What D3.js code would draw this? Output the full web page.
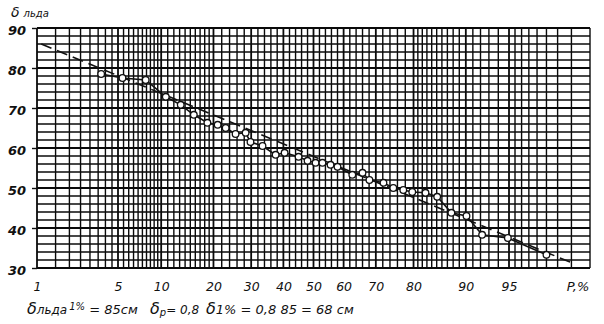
<!DOCTYPE html>
<html>
<head>
<meta charset="utf-8">
<script src="https://cdn.jsdelivr.net/npm/d3@7"></script>
<style>
  body { margin: 0; background: #fff; }
  text { font-family: "DejaVu Sans", sans-serif; font-style: italic; fill: #111; }
</style>
</head>
<body>
<div id="container"></div>
<script>
// observed points: exceedance probability P (%) and ice thickness (cm)
var probs = [3.7, 5.4, 7.9, 10.7, 13.2, 15.7, 18.6, 21, 23, 25.6, 28.4, 29.8, 33.4, 37.5, 40.4,
             45, 48, 50.7, 53, 55.7, 58, 62.8, 66, 68.1, 72.2, 74.9, 77.5, 79.7, 82.7, 85.1,
             87.7, 90.1, 92.2, 94.9, 97.5];
var thick = [78.5, 77.5, 77, 72.8, 70.8, 68.3, 66.3, 65.8, 65, 63.5, 63.8, 61.5, 60.5, 58.3, 58.8,
             57.8, 56.8, 56.3, 56.3, 55.8, 55.3, 53.3, 53.8, 52, 51.3, 50, 49.5, 49, 48.8, 47.8,
             43.8, 43, 38.3, 37.5, 33.3];

// dashed fitted line (end points)
var fitP = [1.1, 98.6];
var fitV = [86, 31];

// axis tick labels
var xTicks = [1, 5, 10, 20, 30, 40, 50, 60, 70, 80, 90, 95];
var yTicks = [30, 40, 50, 60, 70, 80, 90];

// grid of the probability paper
var gridP = [].concat(d3.range(1, 10, 0.5), d3.range(10, 20, 1), d3.range(20, 80, 2),
                      d3.range(80, 95, 1), d3.range(95, 99.01, 0.5));
var gridY = d3.range(30, 91, 2);

// inverse normal cdf (Acklam)
function probit(p) {
  var a = [-39.69683028665376, 220.9460984245205, -275.9285104469687, 138.3577518672690, -30.66479806614716, 2.506628277459239];
  var b = [-54.47609879822406, 161.5858368580409, -155.6989798598866, 66.80131188771972, -13.28068155288572];
  var c = [-0.007784894002430293, -0.3223964580411365, -2.400758277161838, -2.549732539343734, 4.374664141464968, 2.938163982698783];
  var d = [0.007784695709041462, 0.3224671290700398, 2.445134137142996, 3.754408661907416];
  var pl = 0.02425, q, r;
  if (p < pl) {
    q = Math.sqrt(-2 * Math.log(p));
    return (((((c[0]*q+c[1])*q+c[2])*q+c[3])*q+c[4])*q+c[5]) / ((((d[0]*q+d[1])*q+d[2])*q+d[3])*q+1);
  }
  if (p > 1 - pl) {
    q = Math.sqrt(-2 * Math.log(1 - p));
    return -(((((c[0]*q+c[1])*q+c[2])*q+c[3])*q+c[4])*q+c[5]) / ((((d[0]*q+d[1])*q+d[2])*q+d[3])*q+1);
  }
  q = p - 0.5; r = q * q;
  return (((((a[0]*r+a[1])*r+a[2])*r+a[3])*r+a[4])*r+a[5])*q / (((((b[0]*r+b[1])*r+b[2])*r+b[3])*r+b[4])*r+1);
}

var W = 604, H = 324;
var plot = {left: 37, right: 590, top: 28, bottom: 268};

var zScale = d3.scaleLinear().domain([probit(0.01), probit(0.99)]).range([plot.left, plot.right]);
function x(P) { return zScale(probit(P / 100)); }
var y = d3.scaleLinear().domain([30, 90]).range([plot.bottom, plot.top]);

var svg = d3.select("#container").append("svg")
  .attr("width", W).attr("height", H);

// grid (dark, like the scanned paper)
var grid = svg.append("g").attr("stroke", "#0a0a0a");
grid.selectAll(".gv").data(gridP).enter().append("line")
  .attr("x1", function(d) { return x(d); }).attr("x2", function(d) { return x(d); })
  .attr("y1", plot.top).attr("y2", plot.bottom)
  .attr("stroke-width", function(d) { return xTicks.indexOf(d) >= 0 ? 1.8 : 1.4; });
grid.selectAll(".gh").data(gridY).enter().append("line")
  .attr("x1", plot.left).attr("x2", plot.right)
  .attr("y1", function(d) { return y(d); }).attr("y2", function(d) { return y(d); })
  .attr("stroke-width", function(d) { return d % 10 == 0 ? 1.8 : 1.4; });

// y axis
var yAxis = svg.append("g")
  .attr("transform", "translate(" + plot.left + ",0)")
  .call(d3.axisLeft(y).tickValues(yTicks).tickSize(5).tickPadding(6));
yAxis.select(".domain").remove();
yAxis.selectAll(".tick line").attr("stroke", "#111").attr("stroke-width", 1.4);
yAxis.selectAll(".tick text")
  .attr("dy", "0.5em")
  .style("font-size", "13px").style("font-weight", "bold").style("font-style", "italic")
  .style("font-family", "DejaVu Sans");

// x axis labels
var xAxis = svg.append("g")
  .attr("transform", "translate(0," + plot.bottom + ")")
  .call(d3.axisBottom(zScale)
    .tickValues(xTicks.map(function(p) { return probit(p / 100); }))
    .tickFormat(function(d, i) { return xTicks[i]; })
    .tickSize(0).tickPadding(14));
xAxis.select(".domain").remove();
xAxis.selectAll(".tick text")
  .style("font-size", "12.5px").style("font-style", "italic")
  .style("font-family", "DejaVu Sans");

svg.append("text").attr("x", 578).attr("y", 291).attr("text-anchor", "middle")
  .style("font-size", "13px").text("P,%");

// dashed fitted line
svg.append("path")
  .datum(d3.zip(fitP, fitV))
  .attr("fill", "none").attr("stroke", "#111").attr("stroke-width", 1.6)
  .attr("stroke-dasharray", "11,6")
  .attr("d", d3.line().x(function(d) { return x(d[0]); }).y(function(d) { return y(d[1]); }));

// observed line and points
var pts = d3.zip(probs, thick);
svg.append("path")
  .datum(pts)
  .attr("fill", "none").attr("stroke", "#111").attr("stroke-width", 1.6)
  .attr("d", d3.line().x(function(d) { return x(d[0]); }).y(function(d) { return y(d[1]); }));

svg.selectAll(".pt").data(pts).enter().append("circle")
  .attr("cx", function(d) { return x(d[0]); })
  .attr("cy", function(d) { return y(d[1]); })
  .attr("r", 3.3)
  .attr("fill", "#fff").attr("stroke", "#111").attr("stroke-width", 1.3);

// y title
var yt = svg.append("text").attr("x", 11).attr("y", 17).style("font-size", "14px");
yt.append("tspan").text("δ");
yt.append("tspan").style("font-size", "10px").attr("dx", 4).text("льда");

// bottom note
var note = svg.append("text").attr("x", 27).attr("y", 314).style("font-size", "13px");
note.append("tspan").style("font-size", "16px").text("δ");
note.append("tspan").style("font-size", "12px").text("льда");
note.append("tspan").style("font-size", "10px").attr("dy", -4).attr("dx", 2).text("1%");
note.append("tspan").attr("dy", 4).text(" = 85см");

var note2 = svg.append("text").attr("x", 150).attr("y", 314).style("font-size", "12px");
note2.append("tspan").style("font-size", "16px").text("δ");
note2.append("tspan").style("font-size", "10px").attr("dy", 2).text("р");
note2.append("tspan").attr("dy", -2).text("= 0,8");

var note3 = svg.append("text").attr("x", 206).attr("y", 314).style("font-size", "13px");
note3.append("tspan").style("font-size", "16px").text("δ");
note3.append("tspan").text("1% = 0,8 85 = 68 см");
</script>
</body>
</html>
